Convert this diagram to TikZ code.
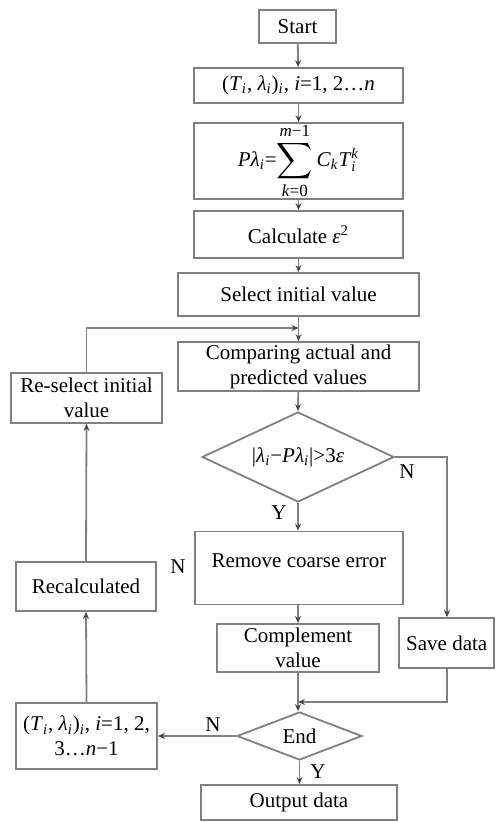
\documentclass[tikz,border=0pt]{standalone}
\usepackage{amsmath}
\usepackage{graphicx}
\usepackage{fontspec}
\setmainfont{Liberation Serif}
\usetikzlibrary{shapes.geometric,arrows.meta}
\definecolor{linegray}{RGB}{128,128,128}
\definecolor{tipgray}{RGB}{70,70,70}
\newcommand{\SubI}{\textsubscript{\textit{i}}}
\newcommand{\LimText}[1]{\text{\fontsize{8.5pt}{8.5pt}\selectfont #1}}
\begin{document}
\begin{tikzpicture}[x=0.5pt,y=-0.5pt,
  font=\fontsize{10.5pt}{12.5pt}\selectfont,
  box/.style={draw=linegray, line width=0.9pt, inner sep=0pt, align=center},
  dia/.style={draw=linegray, line width=0.9pt, diamond, inner sep=0pt},
  conn/.style={draw=linegray, line width=0.9pt, -{Stealth[length=3.5pt,width=3pt,color=tipgray]}},
  plain/.style={draw=linegray, line width=0.9pt},
  lbl/.style={inner sep=0pt}]
\useasboundingbox (0,0) rectangle (496,822);

\node[box, minimum width=38.5pt, minimum height=16.5pt] (start) at (297.5,26.5) {Start};
\node[box, minimum width=104.5pt, minimum height=17.5pt] (inp) at (298.5,85.5)
  {(\textit{T}\SubI, \textit{λ}\SubI)\SubI, \textit{i}=1, 2…\textit{n}};
\node[box, minimum width=104.5pt, minimum height=34pt] (poly) at (298.5,161)
  {\textit{P}\textit{λ}\SubI=$\displaystyle\mathop{\vcenter{\hbox{\scalebox{1.15}{$\displaystyle\sum$}}}}\limits_{\LimText{\textit{k}=0}}^{\LimText{\textit{m}−1}}$\,\textit{C}$_{\text{\textit{k}}}$\textit{T}$_{\text{\textit{i}}}^{\text{\textit{k}}}$};
\node[box, minimum width=104.5pt, minimum height=23.5pt] (calc) at (298.5,234.5)
  {Calculate \textit{ε}\textsuperscript{2}};
\node[box, minimum width=120.5pt, minimum height=21.5pt] (sel) at (298.5,294.5) {Select initial value};
\node[box, minimum width=120.5pt, minimum height=24.5pt] (cmp) at (298.5,366.5)
  {Comparing actual and\\predicted values};
\node[dia, minimum width=96pt, minimum height=45pt, aspect=2.13] (d1) at (298,457)
  {|\textit{λ}\SubI−\textit{P}\textit{λ}\SubI|>3\textit{ε}};
\node[box, minimum width=104pt, text height=18pt, text depth=18.5pt] (rem) at (299,568)
  {Remove coarse error};
\node[box, minimum width=81pt, minimum height=24pt] (comp) at (298,648)
  {Complement\\value};
\node[box, minimum width=47.5pt, minimum height=25pt] (save) at (446.75,643) {Save data};
\node[dia, minimum width=62.5pt, minimum height=24pt, aspect=2.6] (end) at (299.5,736) {End};
\node[box, minimum width=98pt, minimum height=17.5pt] (out) at (299,802.5) {Output data};
\node[box, minimum width=75.5pt, minimum height=25pt] (resel) at (86.5,398)
  {Re-select initial\\value};
\node[box, minimum width=70pt, minimum height=24.5pt] (recalc) at (86,586.5) {Recalculated};
\node[box, minimum width=70.5pt, minimum height=33pt] (tl) at (86.5,736)
  {(\textit{T}\SubI, \textit{λ}\SubI)\SubI, \textit{i}=1, 2,\\3…\textit{n}−1};

\coordinate (join) at (298.5,328);
\coordinate (jleft) at (86.5,328);
\coordinate (dright) at (447,457);
\coordinate (sbot) at (447,702);
\coordinate (mjoin) at (298,702);

\draw[conn] (start) -- (inp);
\draw[conn] (inp) -- (poly);
\draw[conn] (poly) -- (calc);
\draw[conn] (calc) -- (sel);
\draw[conn] (sel) -- (cmp);
\draw[conn] (resel.north) -- (jleft) -- (join);
\draw[conn] (cmp) -- (d1.north);
\draw[conn] (d1.south) -- (rem.north -| d1.south);
\draw[conn] (d1.east) -- (dright) -- (save.north -| dright);
\draw[conn] (rem.south -| comp.north) -- (comp.north);
\draw[conn] (comp.south) -- (end.north -| comp.south);
\draw[conn] (save.south -| sbot) -- (sbot) -- (mjoin);
\draw[conn] (end.west) -- (tl.east);
\draw[conn] (end.south) -- (out.north -| end.south);
\draw[conn] (tl.north) -- (recalc.south);
\draw[conn] (recalc.north) -- (resel.south);

\node[lbl] (n1) at (407,472) {N};
\node[lbl] (y1) at (279,513) {Y};
\node[lbl] (n2) at (178,567) {N};
\node[lbl] (n3) at (213,725) {N};
\node[lbl] (y2) at (318,772) {Y};
\end{tikzpicture}
\end{document}
